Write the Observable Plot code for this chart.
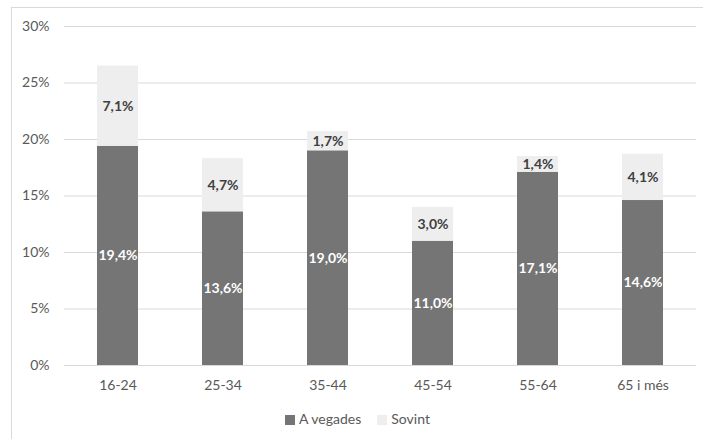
<!DOCTYPE html>
<html>
<head>
<meta charset="utf-8">
<script src="https://cdn.jsdelivr.net/npm/d3@7"></script>
<script src="https://cdn.jsdelivr.net/npm/@observablehq/plot@0.6"></script>
<style>
  html, body { margin: 0; padding: 0; background: #fff; }
  body { width: 703px; height: 439px; position: relative; overflow: hidden; font-family: Lato, "Open Sans", sans-serif; }
  #frame { position: absolute; left: 11px; top: 7px; width: 700px; height: 450px; border-left: 1px solid #d9d9d9; border-top: 1px solid #d9d9d9; box-sizing: border-box; }
  #chart { position: absolute; left: 0; top: 0; }
  #legend { position: absolute; left: 0; top: 410px; width: 703px; text-align: center; font-size: 14px; color: #595959; padding-left: 12px; box-sizing: border-box; }
  #legend span.sw { display: inline-block; width: 10px; height: 10px; margin-right: 4px; vertical-align: -1px; }
  #legend span.item { margin: 0 8px; }
</style>
</head>
<body>
<div id="frame"></div>
<div id="chart"></div>
<div id="legend"></div>
<script>
const categories = ["16-24", "25-34", "35-44", "45-54", "55-64", "65 i més"];
const series = ["A vegades", "Sovint"];
const aVegades = [19.4, 13.6, 19.0, 11.0, 17.1, 14.6];
const sovint = [7.1, 4.7, 1.7, 3.0, 1.4, 4.1];
const yTicks = [0, 5, 10, 15, 20, 25, 30];
const colors = ["#757575", "#eeeeee"];

const data = [];
categories.forEach((c, i) => {
  data.push({cat: c, series: series[0], value: aVegades[i]});
  data.push({cat: c, series: series[1], value: sovint[i]});
});
const fmt = v => v.toFixed(1).replace(".", ",") + "%";

const stackOpts = {x: "cat", y: "value", z: "series", order: series};

const plot = Plot.plot({
  width: 703,
  height: 400,
  marginLeft: 64,
  marginRight: 7,
  marginTop: 26,
  marginBottom: 35,
  style: {fontFamily: "Lato, 'Open Sans', sans-serif", fontSize: "14px", color: "#595959", background: "transparent"},
  x: {domain: categories, paddingInner: 0.61, paddingOuter: 0.305, align: 0.5, label: null, tickSize: 0, tickPadding: 15},
  y: {domain: [0, 30], ticks: yTicks, tickFormat: d => d + "%", label: null, tickSize: 0, tickPadding: 15},
  color: {domain: series, range: colors},
  marks: [
    Plot.gridY(yTicks, {stroke: "#d9d9d9", strokeOpacity: 1, strokeWidth: 1}),
    Plot.barY(data, Plot.stackY({...stackOpts, fill: "series"})),
    Plot.text(data, Plot.stackY({...stackOpts, text: d => d.series === series[0] ? fmt(d.value) : "", fill: "white", fontWeight: "bold", fontSize: 14})),
    Plot.text(data, Plot.stackY({...stackOpts, text: d => d.series === series[1] ? fmt(d.value) : "", fill: "#404040", fontWeight: "bold", fontSize: 14}))
  ]
});
document.getElementById("chart").appendChild(plot);

const legend = document.getElementById("legend");
series.forEach((s, i) => {
  const item = document.createElement("span");
  item.className = "item";
  const sw = document.createElement("span");
  sw.className = "sw";
  sw.style.background = colors[i];
  item.appendChild(sw);
  item.appendChild(document.createTextNode(s));
  legend.appendChild(item);
});
</script>
</body>
</html>
